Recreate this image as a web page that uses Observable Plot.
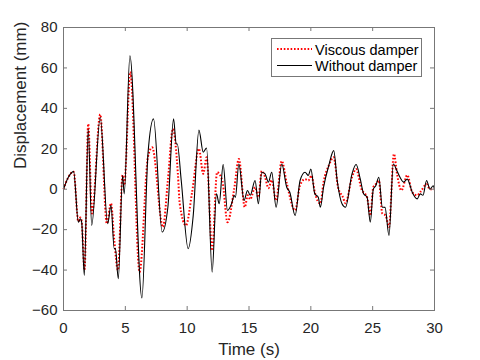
<!DOCTYPE html>
<html><head><meta charset="utf-8">
<script src="https://cdn.jsdelivr.net/npm/d3@7"></script>
<script src="https://cdn.jsdelivr.net/npm/@observablehq/plot@0.6"></script>
<style>body{margin:0;background:#fff}#chart{position:relative;width:480px;height:360px}</style>
</head><body><div id="chart"></div>
<script>
const seriesNames = ["Viscous damper", "Without damper"];
const xTicks = [0, 5, 10, 15, 20, 25, 30];
const yTicks = [-60, -40, -20, 0, 20, 40, 60, 80];

const timeViscous = [0,0.39,0.82,1.2,1.36,1.47,1.7,2.0,2.3,2.97,3.5,3.84,4.1,4.4,4.78,4.91,5.4,6.15,6.83,7.17,8.04,8.44,8.85,9.25,9.4,9.9,10.4,10.95,11.3,11.57,12.02,12.42,12.85,13.26,13.8,14.18,14.66,14.9,15.1,15.49,15.76,16.03,16.3,16.57,16.84,17.19,17.65,18.05,18.73,19.13,19.53,19.8,20.05,20.32,20.77,21.03,21.45,21.85,22.2,22.6,22.8,23.33,23.66,24.1,24.55,24.81,25.05,25.25,25.5,25.78,26.05,26.32,26.72,26.97,27.32,27.8,28.2,28.6,28.9,29.36,29.63,30];
const dispViscous = [0,5.9,8.7,-16,-14,-16,-40,32.3,-12,37,-17,-7,-25,-40,7,2,58,-41,16,20.7,-18.7,4.3,29.8,7.6,-7.2,-17.9,-1.5,20,7.6,15.8,-30.3,8.4,4,-16.3,0,15,-8.9,-3,-5,1,-4,9,6,0.5,4.5,-5.6,14,3,-10.5,2,5,4.3,6.8,-1.5,-7.2,3.5,11.7,15.8,1,-4,-7,6,10,0,-4,-13,1,2.5,4.3,-12,-13,-18.7,17.5,7.6,-0.6,7,-1.5,-3,-1,2.5,0,0];

const timeWithout = [0,0.39,0.82,1.2,1.36,1.47,1.68,2.0,2.28,2.97,3.57,3.84,4.1,4.2,4.43,4.78,4.91,5.37,6.34,6.83,7.28,7.98,8.44,8.9,9.11,9.2,9.52,10.08,10.49,10.95,11.3,11.57,12.02,12.37,12.59,12.91,13.26,13.6,13.8,13.9,14.18,14.6,14.88,15.1,15.49,15.76,16.03,16.3,16.57,16.84,17.19,17.65,18.05,18.3,18.73,19.13,19.53,19.8,20.0,20.32,20.6,20.77,21.03,21.45,21.85,22.13,22.52,22.8,23.33,23.66,24.0,24.27,24.55,24.81,25.05,25.25,25.5,25.78,26.0,26.32,26.67,26.97,27.2,27.5,27.8,28.2,28.6,28.85,29.07,29.36,29.63,29.9,30];
const dispWithout = [0,5.9,8.7,-16.3,-14.6,-16.3,-42.6,29.8,-17.9,35.6,-17.1,-8,-29.4,-29.4,-44.3,6.8,-2.3,66,-53.8,17.5,34.8,-21.2,-8.9,34.8,22.4,22.4,4.3,-29.4,-13,29.3,18.3,20.4,-41,-2.3,-7.2,12.2,-10.5,-7,-3.1,-4,12.5,-5.6,-0.6,-3,4.3,-7.2,8.4,7.6,3.5,8.4,-8.9,12.5,1,-1.5,-13,4.3,8.4,6.8,10,-2.3,-4,-8.9,1,11.7,19.1,4.3,-7.2,-8.9,7.6,12.2,5,-2.3,-4,-16.3,0,1.7,5.9,-8.9,-9,-22.9,12.5,9,6,3.5,5,-1.5,-4.8,-2.3,-3,4.3,0,1.7,0];

const viscous = timeViscous.map((t, i) => ({t, d: dispViscous[i]}));
const without = timeWithout.map((t, i) => ({t, d: dispWithout[i]}));

const W = 480, H = 360, mL = 63, mR = 46, mT = 27, mB = 50;
const ph = H - mT - mB, pw = W - mL - mR, tk = 4;
const axisColor = "#777";
const font = "'Liberation Sans', Arial, Helvetica, sans-serif";
const redDash = "1.6,1.8";

const chart = Plot.plot({
  width: W, height: H,
  marginLeft: mL, marginRight: mR, marginTop: mT, marginBottom: mB,
  style: {fontFamily: font, fontSize: "15px", color: "#262626", background: "#fff"},
  x: {domain: [0, 30]},
  y: {domain: [-60, 80]},
  marks: [
    Plot.line(viscous, {x: "t", y: "d", stroke: "#ff0000", strokeWidth: 2, strokeDasharray: redDash, strokeLinecap: "butt", curve: "monotone-x"}),
    Plot.line(without, {x: "t", y: "d", stroke: "#000", strokeWidth: 1.1, curve: "monotone-x"}),
    Plot.frame({stroke: axisColor}),
    Plot.tickX(xTicks, {x: d => d, insetTop: ph - tk, stroke: axisColor}),
    Plot.tickX(xTicks, {x: d => d, insetBottom: ph - tk, stroke: axisColor}),
    Plot.tickY(yTicks, {y: d => d, insetRight: pw - tk, stroke: axisColor}),
    Plot.tickY(yTicks, {y: d => d, insetLeft: pw - tk, stroke: axisColor}),
    Plot.axisX({ticks: xTicks, tickSize: 0, tickPadding: 12, label: null, fontSize: 15}),
    Plot.axisY({ticks: yTicks, tickSize: 0, tickPadding: 6, label: null, fontSize: 15}),
    Plot.text(["Time (s)"], {frameAnchor: "bottom", lineAnchor: "top", dy: 32, fontSize: 17, fill: "#262626"}),
    Plot.text(["Displacement (mm)"], {frameAnchor: "left", rotate: -90, dx: -43, fontSize: 17, fill: "#262626"})
  ]
});
document.getElementById("chart").appendChild(chart);

// legend
const svg = d3.select(chart);
const lg = svg.append("g").attr("font-family", font).attr("font-size", "14.5px")
  .attr("fill", "#000").attr("text-anchor", "start");
lg.append("rect").attr("x", 271.5).attr("y", 38.5).attr("width", 150).attr("height", 38)
  .attr("fill", "#fff").attr("stroke", axisColor);
const items = [
  {name: seriesNames[0], stroke: "#ff0000", w: 2, dash: redDash, y: 49},
  {name: seriesNames[1], stroke: "#000", w: 1.1, dash: null, y: 65.5}
];
items.forEach(it => {
  lg.append("line").attr("x1", 277).attr("x2", 312).attr("y1", it.y).attr("y2", it.y)
    .attr("stroke", it.stroke).attr("stroke-width", it.w).attr("stroke-dasharray", it.dash)
    .attr("stroke-linecap", "butt");
  lg.append("text").attr("x", 315).attr("y", it.y + 5.5).attr("text-anchor", "start").text(it.name);
});
</script>
</body></html>
